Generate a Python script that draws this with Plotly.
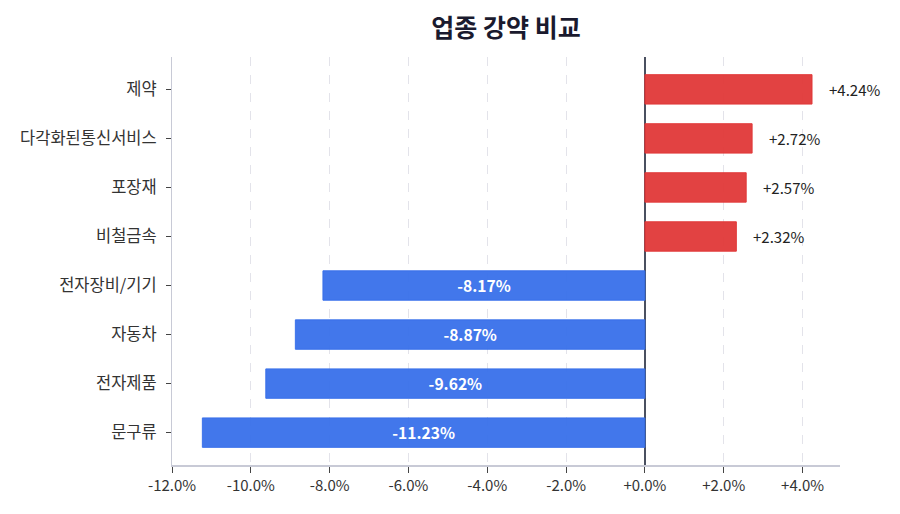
import plotly.graph_objects as go

categories = ["제약", "다각화된통신서비스", "포장재", "비철금속", "전자장비/기기", "자동차", "전자제품", "문구류"]
values = [4.24, 2.72, 2.57, 2.32, -8.17, -8.87, -9.62, -11.23]
tick_vals = [-12, -10, -8, -6, -4, -2, 0, 2, 4]
tick_text = ["-12.0%", "-10.0%", "-8.0%", "-6.0%", "-4.0%", "-2.0%", "+0.0%", "+2.0%", "+4.0%"]

RED = "rgba(224,56,56,0.95)"
BLUE = "rgba(56,112,234,0.95)"
colors = [RED if v >= 0 else BLUE for v in values]
labels = [f"{v:+.2f}%" for v in values]

fig = go.Figure()
fig.add_trace(go.Bar(
    y=categories, x=values, orientation="h",
    marker=dict(color=colors, line=dict(color=colors, width=1)),
    text=[l if v < 0 else "" for l, v in zip(labels, values)],
    textposition="inside", insidetextanchor="middle",
    textfont=dict(color="white", size=16, family="Noto Sans CJK KR"),
    texttemplate="<b>%{text}</b>",
    width=0.6, showlegend=False, hoverinfo="skip",
))

for c, v, l in zip(categories, values, labels):
    if v >= 0:
        fig.add_annotation(x=v, y=c, text=l, showarrow=False, xanchor="left",
                           xshift=15, font=dict(size=15, color="#222", family="Noto Sans CJK KR"))

n = len(categories)
fig.update_layout(
    width=900, height=514,
    margin=dict(l=172, r=60, t=57, b=49),
    paper_bgcolor="white", plot_bgcolor="white",
    font=dict(family="Noto Sans CJK KR", size=16, color="#333"),
    title=dict(text="<b>업종 강약 비교</b>", x=0.5, xref="paper", xanchor="center",
               y=1 - 28 / 514, yref="container", yanchor="middle",
               font=dict(size=25, color="#1a1a2e")),
    xaxis=dict(range=[-12, 4.95], tickvals=tick_vals, ticktext=tick_text,
               showgrid=True, gridcolor="#e3e3ea", griddash="dash", gridwidth=1,
               zeroline=True, zerolinecolor="#4a5060", zerolinewidth=1.5,
               showline=True, linecolor="#c8cad6", linewidth=1.5,
               ticks="outside", ticklen=6, tickcolor="#444",
               tickfont=dict(size=15, color="#333")),
    yaxis=dict(range=[n - 1 + 0.66, -0.66], showline=True, linecolor="#c8cad6", linewidth=1,
               ticks="outside", ticklen=5, tickcolor="#444", showgrid=False,
               ticklabelstandoff=6,
               tickfont=dict(size=16.5, color="#333")),
)

fig.write_html("out.html")
